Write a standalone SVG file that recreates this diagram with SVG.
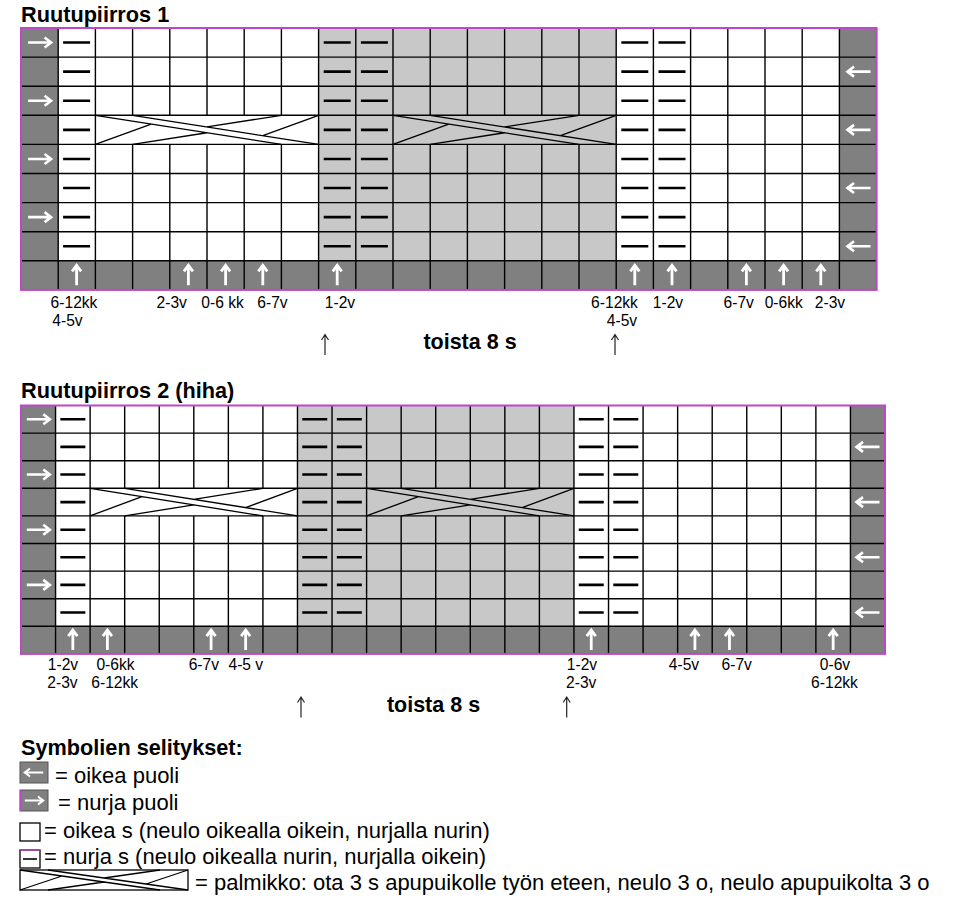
<svg xmlns="http://www.w3.org/2000/svg" xmlns:xlink="http://www.w3.org/1999/xlink" width="965" height="899" viewBox="0 0 965 899">
<style>
text{font-family:"Liberation Sans",Arial,"DejaVu Sans",sans-serif;fill:#000}
.grid{stroke:#000;stroke-width:1.4;fill:none}
.border{fill:none;stroke:#bf46c8;stroke-width:2}
.dk{fill:#808080}
.lt{fill:#c8c8c8}
.wh{fill:#fff}
.purl{stroke:#000;stroke-width:2.6;fill:none}
.lbl{font-size:15.6px;text-anchor:middle}
.h{font-weight:bold;font-size:21.7px}
.rep{font-weight:bold;font-size:21.5px;text-anchor:middle}
.leg{font-size:22px}
</style>
<defs>
<path id="cab" d="M0,0L5,1M1,0L6,1M0,1L1.5,0.3M1,1L3,0.6M6,0L4.5,0.7M5,0L3,0.4" fill="none" stroke="#000" stroke-width="1.3" vector-effect="non-scaling-stroke"/>
<path id="ar" d="M-11.5,0H10.5M5,-5L11.5,0L5,5" fill="none" stroke="#fff" stroke-width="2.6" stroke-linecap="butt" stroke-linejoin="miter"/>
<path id="au" d="M0,10V-9M-4.5,-4L0,-10L4.5,-4" fill="none" stroke="#fff" stroke-width="2.8" stroke-linejoin="miter"/>
<path id="aut" d="M0,10V-9.5M-3.5,-5L0,-10.5L3.5,-5" fill="none" stroke="#222" stroke-width="1.2"/>
</defs>

<g id="chart1">
<text class="h" x="21" y="22">Ruutupiirros 1</text>
<rect class="wh" x="21" y="28" width="855.6" height="261.9"/>
<rect class="lt" x="318.6" y="28" width="297.6" height="232.8"/>
<rect class="dk" x="21" y="28" width="37.2" height="232.8"/>
<rect class="dk" x="839.4" y="28" width="37.2" height="232.8"/>
<rect class="dk" x="21" y="260.8" width="855.6" height="29.1"/>
<path class="grid" d="M21 57.1H876.6M21 86.2H876.6M21 115.3H876.6M21 144.4H876.6M21 173.5H876.6M21 202.6H876.6M21 231.7H876.6M21 260.8H876.6
M58.2 28V289.9M95.4 28V289.9
M132.6 28V115.3M132.6 144.4V289.9M169.8 28V115.3M169.8 144.4V289.9M207 28V115.3M207 144.4V289.9M244.2 28V115.3M244.2 144.4V289.9M281.4 28V115.3M281.4 144.4V289.9
M318.6 28V289.9M355.8 28V289.9M393 28V289.9
M430.2 28V115.3M430.2 144.4V289.9M467.4 28V115.3M467.4 144.4V289.9M504.6 28V115.3M504.6 144.4V289.9M541.8 28V115.3M541.8 144.4V289.9M579 28V115.3M579 144.4V289.9
M616.2 28V289.9M653.4 28V289.9M690.6 28V289.9M727.8 28V289.9M765 28V289.9M802.2 28V289.9M839.4 28V289.9"/>
<use xlink:href="#cab" transform="translate(95.4,115.3) scale(37.2,29.1)"/>
<use xlink:href="#cab" transform="translate(393,115.3) scale(37.2,29.1)"/>
<path class="purl" d="M63.1 42.55h27M323.7 42.55h27M360.9 42.55h27M621.3 42.55h27M658.5 42.55h27
M63.1 71.65h27M323.7 71.65h27M360.9 71.65h27M621.3 71.65h27M658.5 71.65h27
M63.1 100.75h27M323.7 100.75h27M360.9 100.75h27M621.3 100.75h27M658.5 100.75h27
M63.1 129.85h27M323.7 129.85h27M360.9 129.85h27M621.3 129.85h27M658.5 129.85h27
M63.1 158.95h27M323.7 158.95h27M360.9 158.95h27M621.3 158.95h27M658.5 158.95h27
M63.1 188.05h27M323.7 188.05h27M360.9 188.05h27M621.3 188.05h27M658.5 188.05h27
M63.1 217.15h27M323.7 217.15h27M360.9 217.15h27M621.3 217.15h27M658.5 217.15h27
M63.1 246.25h27M323.7 246.25h27M360.9 246.25h27M621.3 246.25h27M658.5 246.25h27"/>
<rect class="border" x="21" y="28" width="855.6" height="261.9"/>
<use xlink:href="#ar" transform="translate(39.6,42.55)"/>
<use xlink:href="#ar" transform="translate(39.6,100.75)"/>
<use xlink:href="#ar" transform="translate(39.6,158.95)"/>
<use xlink:href="#ar" transform="translate(39.6,217.15)"/>
<use xlink:href="#ar" transform="translate(859,71.65) rotate(180)"/>
<use xlink:href="#ar" transform="translate(859,129.85) rotate(180)"/>
<use xlink:href="#ar" transform="translate(859,188.05) rotate(180)"/>
<use xlink:href="#ar" transform="translate(859,246.25) rotate(180)"/>
<use xlink:href="#au" transform="translate(76.6,275.35)"/>
<use xlink:href="#au" transform="translate(188.4,275.35)"/>
<use xlink:href="#au" transform="translate(225.6,275.35)"/>
<use xlink:href="#au" transform="translate(262.8,275.35)"/>
<use xlink:href="#au" transform="translate(337.2,275.35)"/>
<use xlink:href="#au" transform="translate(634.8,275.35)"/>
<use xlink:href="#au" transform="translate(672,275.35)"/>
<use xlink:href="#au" transform="translate(746.4,275.35)"/>
<use xlink:href="#au" transform="translate(783.6,275.35)"/>
<use xlink:href="#au" transform="translate(820.8,275.35)"/>
<text class="lbl" x="74" y="308">6-12kk</text>
<text class="lbl" x="67.5" y="326">4-5v</text>
<text class="lbl" x="171.7" y="308">2-3v</text>
<text class="lbl" x="222.5" y="308">0-6 kk</text>
<text class="lbl" x="272.5" y="308">6-7v</text>
<text class="lbl" x="340" y="308">1-2v</text>
<text class="lbl" x="614.5" y="308">6-12kk</text>
<text class="lbl" x="622" y="326">4-5v</text>
<text class="lbl" x="668" y="308">1-2v</text>
<text class="lbl" x="738.7" y="308">6-7v</text>
<text class="lbl" x="783.7" y="308">0-6kk</text>
<text class="lbl" x="830" y="308">2-3v</text>
<use xlink:href="#aut" transform="translate(325,345)"/>
<use xlink:href="#aut" transform="translate(615,345)"/>
<text class="rep" x="470" y="349">toista 8 s</text>
</g>

<g id="chart2">
<text class="h" x="21" y="398">Ruutupiirros 2 (hiha)</text>
<rect class="wh" x="21" y="405.5" width="864" height="248.4"/>
<rect class="lt" x="297.48" y="405.5" width="276.48" height="220.8"/>
<rect class="dk" x="21" y="405.5" width="34.56" height="220.8"/>
<rect class="dk" x="850.44" y="405.5" width="34.56" height="220.8"/>
<rect class="dk" x="21" y="626.3" width="864" height="27.6"/>
<path class="grid" d="M21 433.1H885M21 460.7H885M21 488.3H885M21 515.9H885M21 543.5H885M21 571.1H885M21 598.7H885M21 626.3H885
M55.56 405.5V653.9M90.12 405.5V653.9
M124.68 405.5V488.3M124.68 515.9V653.9M159.24 405.5V488.3M159.24 515.9V653.9M193.8 405.5V488.3M193.8 515.9V653.9M228.36 405.5V488.3M228.36 515.9V653.9M262.92 405.5V488.3M262.92 515.9V653.9
M297.48 405.5V653.9M332.04 405.5V653.9M366.6 405.5V653.9
M401.16 405.5V488.3M401.16 515.9V653.9M435.72 405.5V488.3M435.72 515.9V653.9M470.28 405.5V488.3M470.28 515.9V653.9M504.84 405.5V488.3M504.84 515.9V653.9M539.4 405.5V488.3M539.4 515.9V653.9
M573.96 405.5V653.9M608.52 405.5V653.9M643.08 405.5V653.9M677.64 405.5V653.9M712.2 405.5V653.9M746.76 405.5V653.9M781.32 405.5V653.9M815.88 405.5V653.9M850.44 405.5V653.9"/>
<use xlink:href="#cab" transform="translate(90.12,488.3) scale(34.56,27.6)"/>
<use xlink:href="#cab" transform="translate(366.6,488.3) scale(34.56,27.6)"/>
<path class="purl" d="M60.34 419.3h25M302.26 419.3h25M336.82 419.3h25M578.74 419.3h25M613.3 419.3h25
M60.34 446.9h25M302.26 446.9h25M336.82 446.9h25M578.74 446.9h25M613.3 446.9h25
M60.34 474.5h25M302.26 474.5h25M336.82 474.5h25M578.74 474.5h25M613.3 474.5h25
M60.34 502.1h25M302.26 502.1h25M336.82 502.1h25M578.74 502.1h25M613.3 502.1h25
M60.34 529.7h25M302.26 529.7h25M336.82 529.7h25M578.74 529.7h25M613.3 529.7h25
M60.34 557.3h25M302.26 557.3h25M336.82 557.3h25M578.74 557.3h25M613.3 557.3h25
M60.34 584.9h25M302.26 584.9h25M336.82 584.9h25M578.74 584.9h25M613.3 584.9h25
M60.34 612.5h25M302.26 612.5h25M336.82 612.5h25M578.74 612.5h25M613.3 612.5h25"/>
<rect class="border" x="21" y="405.5" width="864" height="248.4"/>
<use xlink:href="#ar" transform="translate(38.3,419.3)"/>
<use xlink:href="#ar" transform="translate(38.3,474.5)"/>
<use xlink:href="#ar" transform="translate(38.3,529.7)"/>
<use xlink:href="#ar" transform="translate(38.3,584.9)"/>
<use xlink:href="#ar" transform="translate(868,446.9) rotate(180)"/>
<use xlink:href="#ar" transform="translate(868,502.1) rotate(180)"/>
<use xlink:href="#ar" transform="translate(868,557.3) rotate(180)"/>
<use xlink:href="#ar" transform="translate(868,612.5) rotate(180)"/>
<use xlink:href="#au" transform="translate(72.84,640.1)"/>
<use xlink:href="#au" transform="translate(107.4,640.1)"/>
<use xlink:href="#au" transform="translate(211.08,640.1)"/>
<use xlink:href="#au" transform="translate(245.64,640.1)"/>
<use xlink:href="#au" transform="translate(591.24,640.1)"/>
<use xlink:href="#au" transform="translate(694.92,640.1)"/>
<use xlink:href="#au" transform="translate(729.48,640.1)"/>
<use xlink:href="#au" transform="translate(833.16,640.1)"/>
<text class="lbl" x="63" y="670">1-2v</text>
<text class="lbl" x="62.5" y="688">2-3v</text>
<text class="lbl" x="115.5" y="670">0-6kk</text>
<text class="lbl" x="114.7" y="688">6-12kk</text>
<text class="lbl" x="203.8" y="670">6-7v</text>
<text class="lbl" x="245.8" y="670">4-5 v</text>
<text class="lbl" x="582" y="670">1-2v</text>
<text class="lbl" x="581.2" y="688">2-3v</text>
<text class="lbl" x="684" y="670">4-5v</text>
<text class="lbl" x="736.7" y="670">6-7v</text>
<text class="lbl" x="835" y="670">0-6v</text>
<text class="lbl" x="834.5" y="688">6-12kk</text>
<use xlink:href="#aut" transform="translate(301,707.5)"/>
<use xlink:href="#aut" transform="translate(566.7,707.5)"/>
<text class="rep" x="433.5" y="712">toista 8 s</text>
</g>

<g id="legend">
<text class="h" x="21" y="755">Symbolien selitykset:</text>
<g id="leg-oikea-puoli">
<rect class="dk" x="20" y="762" width="28" height="21" stroke="#555" stroke-width="1"/>
<use xlink:href="#ar" transform="translate(34,772.5) scale(0.8) rotate(180)"/>
<text class="leg" x="55" y="783">= oikea puoli</text>
</g>
<g id="leg-nurja-puoli">
<rect class="dk" x="20" y="790" width="28" height="21" stroke="#555" stroke-width="1"/>
<path d="M20.5 790V811" stroke="#bf46c8" stroke-width="1.5"/>
<use xlink:href="#ar" transform="translate(34,800.5) scale(0.8)"/>
<text class="leg" x="58" y="810">= nurja puoli</text>
</g>
<g id="leg-oikea-s">
<rect x="20" y="823" width="20" height="18" fill="#fff" stroke="#000" stroke-width="1.3"/>
<text class="leg" x="44" y="838">= oikea s (neulo oikealla oikein, nurjalla nurin)</text>
</g>
<g id="leg-nurja-s">
<rect x="20" y="850" width="20" height="18" fill="#fff" stroke="#000" stroke-width="1.3"/>
<path d="M20 850H40" stroke="#bf46c8" stroke-width="1.3"/>
<path d="M23 859H37" stroke="#000" stroke-width="1.6"/>
<text class="leg" x="44" y="864">= nurja s (neulo oikealla nurin, nurjalla oikein)</text>
</g>
<g id="leg-palmikko">
<rect x="20" y="870" width="168" height="20" fill="#fff" stroke="#000" stroke-width="1.3"/>
<use xlink:href="#cab" transform="translate(20,870) scale(28,20)"/>
<text class="leg" x="195" y="890">= palmikko: ota 3 s apupuikolle työn eteen, neulo 3 o, neulo apupuikolta 3 o</text>
</g>
</g>
</svg>
